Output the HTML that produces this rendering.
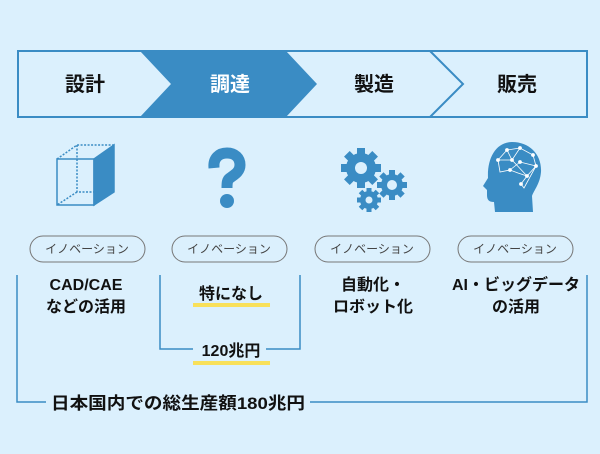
<!DOCTYPE html>
<html><head><meta charset="utf-8"><style>
html,body{margin:0;padding:0;}
body{width:600px;height:454px;background:#dbf0fd;overflow:hidden;position:relative;font-family:"Liberation Sans","Noto Sans CJK JP",sans-serif;}
svg{position:absolute;left:0;top:0;}
</style></head><body>
<svg width="600" height="454" viewBox="0 0 600 454" xmlns="http://www.w3.org/2000/svg" font-family="Liberation Sans, Noto Sans CJK JP, sans-serif">
<rect x="18" y="51" width="569" height="66" fill="#dbf0fd" stroke="#3a8cc4" stroke-width="2"/>
<polygon points="140,51 286,51 317,84 286,117 140,117 171,84" fill="#3a8cc4"/>
<polyline points="430,51 463,84 430,117" fill="none" stroke="#3a8cc4" stroke-width="2"/>
<g font-size="20" font-weight="bold" text-anchor="middle">
<text x="85" y="91" fill="#111">設計</text>
<text x="230" y="91" fill="#fff">調達</text>
<text x="374" y="91" fill="#111">製造</text>
<text x="517" y="91" fill="#111">販売</text>
</g>
<g stroke="#3a8cc4" stroke-width="1.5" fill="none">
<polygon points="94,159 114,145 114,192 94,205" fill="#3a8cc4"/>
<rect x="57" y="159" width="37" height="46"/>
<polyline points="57,159 77,145 114,145" stroke-dasharray="2,1.5"/>
<polyline points="77,145 77,192 94,192" stroke-dasharray="2,1.5"/>
<line x1="77" y1="192" x2="57" y2="205" stroke-dasharray="2,1.5"/>
</g>
<!-- question mark -->
<g fill="none" stroke="#3a8cc4" stroke-width="11" stroke-linecap="butt">
<path d="M214,168 C213,158 219,153 227,153 C235,153 240,158 240,165 C240,172 234,175 230,178 C227,180 227,183 227,188"/>
</g>
<circle cx="227" cy="201" r="7" fill="#3a8cc4"/>
<g fill="#3a8cc4">
<g transform="translate(361,168)">
<circle r="15"/>
<g><rect x="-4" y="-20" width="8" height="40"/><rect x="-4" y="-20" width="8" height="40" transform="rotate(45)"/><rect x="-4" y="-20" width="8" height="40" transform="rotate(90)"/><rect x="-4" y="-20" width="8" height="40" transform="rotate(135)"/></g>
<circle r="6" fill="#dbf0fd"/>
</g>
<g transform="translate(392,185)">
<circle r="11"/>
<rect x="-3" y="-15" width="6" height="30"/><rect x="-3" y="-15" width="6" height="30" transform="rotate(45)"/><rect x="-3" y="-15" width="6" height="30" transform="rotate(90)"/><rect x="-3" y="-15" width="6" height="30" transform="rotate(135)"/>
<circle r="5" fill="#dbf0fd"/>
</g>
<g transform="translate(369,200)">
<circle r="9"/>
<rect x="-2.5" y="-12" width="5" height="24"/><rect x="-2.5" y="-12" width="5" height="24" transform="rotate(45)"/><rect x="-2.5" y="-12" width="5" height="24" transform="rotate(90)"/><rect x="-2.5" y="-12" width="5" height="24" transform="rotate(135)"/>
<circle r="3.5" fill="#dbf0fd"/>
</g>
</g>
<path d="M512,142 C530,142 542,155 541,172 C540,184 534,190 532,196 L533,212 L495,212 L494,202 C489,202 487,200 487,195 L487,190 L483,186 L488,178 C487,158 496,142 512,142 Z" fill="#3a8cc4"/>
<g stroke="#fff" stroke-width="0.8" fill="#fff">
<polyline points="498,160 507,150 520,148 533,155 536,166 527,176 518,173 510,170 500,172 498,160 512,160 520,148" fill="none"/>
<polyline points="507,150 512,160 527,176 521,184 524,188 536,166 520,162 510,170" fill="none"/>
<circle cx="498" cy="160" r="1.5"/><circle cx="507" cy="150" r="1.5"/><circle cx="520" cy="148" r="1.5"/><circle cx="533" cy="155" r="1.5"/><circle cx="536" cy="166" r="1.5"/><circle cx="527" cy="176" r="1.5"/><circle cx="512" cy="160" r="1.5"/><circle cx="510" cy="170" r="1.5"/><circle cx="520" cy="162" r="1.5"/><circle cx="521" cy="184" r="1.5"/>
</g>
<g fill="none" stroke="#777" stroke-width="1">
<rect x="30" y="236" width="115" height="26" rx="13"/>
<rect x="172" y="236" width="115" height="26" rx="13"/>
<rect x="315" y="236" width="115" height="26" rx="13"/>
<rect x="458" y="236" width="115" height="26" rx="13"/>
</g>
<g font-size="12" fill="#444" text-anchor="middle">
<text x="87" y="253">イノベーション</text>
<text x="229" y="253">イノベーション</text>
<text x="372" y="253">イノベーション</text>
<text x="515" y="253">イノベーション</text>
</g>
<g stroke="#3a8cc4" stroke-width="1.5" fill="none">
<polyline points="160,275 160,349 193,349"/>
<polyline points="266,349 300,349 300,275"/>
<polyline points="17,275 17,402 46,402"/>
<polyline points="310,402 587,402 587,275"/>
</g>
<rect x="193" y="303" width="77" height="4" fill="#f8e05a"/>
<rect x="193" y="361" width="77" height="4" fill="#f8e05a"/>
<g font-size="16" font-weight="bold" fill="#111" text-anchor="middle">
<text x="86" y="290">CAD/CAE</text>
<text x="86" y="312">などの活用</text>
<text x="231" y="299">特になし</text>
<text x="231" y="356">120兆円</text>
<text x="373" y="290">自動化・</text>
<text x="373" y="312">ロボット化</text>
<text x="516" y="290">AI・ビッグデータ</text>
<text x="516" y="312">の活用</text>
</g>
<text x="178" y="409" font-size="17" font-weight="bold" fill="#111" text-anchor="middle" textLength="254" lengthAdjust="spacingAndGlyphs">日本国内での総生産額180兆円</text>
</svg>
</body></html>
